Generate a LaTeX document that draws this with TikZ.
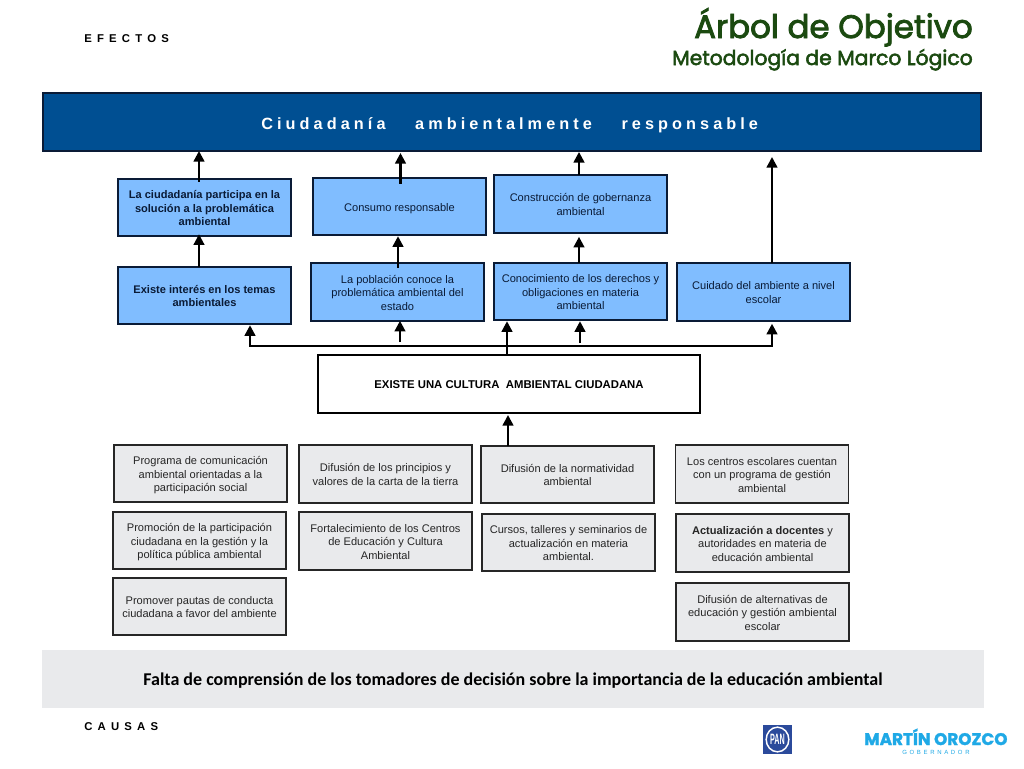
\documentclass[tikz,border=0pt]{standalone}
\usepackage{fontspec}
\setmainfont{Liberation Sans}
\newfontfamily\ttlfont[FakeBold=2.6]{Poppins}
\newfontfamily\mofont[BoldFeatures={FakeBold=1.6}]{Poppins}
\newfontfamily\calfont{Carlito}
\usetikzlibrary{arrows.meta,shapes.geometric}
\newcommand\wordgap[1]{\spaceskip #1\relax}
\newcommand\bt[1]{\raisebox{-1.5pt}[\height][\depth]{\begin{tabular}{@{}c@{}}#1\end{tabular}}}
\definecolor{boxblue}{HTML}{80BDFF}
\definecolor{barblue}{HTML}{004F92}
\definecolor{navy}{HTML}{0A1B36}
\definecolor{boxgray}{HTML}{E9EAEC}
\definecolor{ttlgreen}{HTML}{1B4A10}
\definecolor{pamblue}{HTML}{2B4A9B}
\definecolor{mocyan}{HTML}{1FA9E6}
\tikzset{
  boxtext/.style={font=\fontsize{8.3}{10.1}\selectfont,inner sep=0pt,outer sep=0pt,
     minimum width=129.75pt,minimum height=43.2pt},
  bluebox/.style={boxtext,draw=navy,fill=boxblue,text=navy,line width=1.3pt},
  graybox/.style={boxtext,draw=black!85,fill=boxgray,text=black!85,line width=1.4pt},
  arr/.style={draw=black,line width=1.8pt,-{Triangle[width=8pt,length=8pt]}},
  sidelabel/.style={font=\fontsize{8.5}{10}\selectfont\bfseries\wordgap{3.9pt},anchor=base west,inner sep=0pt,text=black},
}
\begin{document}
\begin{tikzpicture}[x=0.75pt,y=-0.75pt]
\useasboundingbox (0,0) rectangle (1024,768);
\fill[white] (0,0) rectangle (1024,768);

% titles
\node[font=\fontsize{24.35}{28}\selectfont\ttlfont,text=ttlgreen,anchor=base east,inner sep=0pt] (title) at (973,38) {Árbol de Objetivo};
\node[font=\fontsize{15.25}{18}\selectfont\ttlfont,text=ttlgreen,anchor=base east,inner sep=0pt] (subtitle) at (973,65) {Metodología de Marco Lógico};
\node[sidelabel] (efectos) at (84,42) {E F E C T O S};
\node[sidelabel] (causas) at (84,730) {C A U S A S};

% top bar
\node[draw=navy,fill=barblue,line width=1.1pt,minimum width=703.5pt,minimum height=43.5pt,inner sep=0pt,outer sep=0pt,
      text=white,font=\fontsize{12.2}{14}\selectfont\bfseries\wordgap{3.05pt}] (bar) at (512,122)
  {\raisebox{-2.2pt}[\height][\depth]{C i u d a d a n í a\hspace{22.2pt}a m b i e n t a l m e n t e\hspace{22.2pt}r e s p o n s a b l e\hspace*{3.5pt}}};

% blue boxes
\node[bluebox] (A1) at (204.5,207.5) {\bt{\bfseries La ciudadanía participa en la\\\bfseries solución a la problemática\\\bfseries ambiental}};
\node[bluebox] (A2) at (399.5,206.5) {\bt{Consumo responsable}};
\node[bluebox] (A3) at (580.5,204) {\bt{Construcción de gobernanza\\ambiental}};
\node[bluebox] (B1) at (204.5,295.5) {\bt{\bfseries Existe interés en los temas\\\bfseries ambientales}};
\node[bluebox] (B2) at (397.5,292) {\bt{La población conoce la\\problemática ambiental del\\estado}};
\node[bluebox] (B3) at (580.5,291.5) {\bt{Conocimiento de los derechos y\\obligaciones en materia\\ambiental}};
\node[bluebox] (B4) at (763.5,292) {\bt{Cuidado del ambiente a nivel\\escolar}};

% culture box
\node[draw=black,fill=white,line width=2.2pt,minimum width=286.5pt,minimum height=43.5pt,inner sep=0pt,outer sep=0pt,
      font=\fontsize{8.5}{10}\selectfont\bfseries] (cult) at (509,384) {\raisebox{-0.7pt}[\height][\depth]{EXISTE UNA CULTURA\hspace{2.5pt} AMBIENTAL CIUDADANA}};

% gray boxes
\node[graybox] (C1) at (200.5,473.5) {\bt{Programa de comunicación\\ambiental orientadas a la\\participación social}};
\node[graybox] (C2) at (385.5,474) {\bt{Difusión de los principios y\\valores de la carta de la tierra}};
\node[graybox] (C3) at (567.5,474.5) {\bt{Difusión de la normatividad\\ambiental}};
\node[graybox] (C4) at (762,474) {\bt{Los centros escolares cuentan\\con un programa de gestión\\ambiental}};
\node[graybox] (D1) at (199.5,540.5) {\bt{Promoción de la participación\\ciudadana en la gestión y la\\política pública ambiental}};
\node[graybox] (D2) at (385.5,541) {\bt{Fortalecimiento de los Centros\\de Educación y Cultura\\Ambiental}};
\node[graybox] (D3) at (568.5,542.5) {\bt{Cursos, talleres y seminarios de\\actualización en materia\\ambiental.}};
\node[graybox] (D4) at (762.5,543) {\bt{{\bfseries Actualización a docentes} y\\autoridades en materia de\\educación ambiental}};
\node[graybox] (E1) at (199.5,606.5) {\bt{Promover pautas de conducta\\ciudadana a favor del ambiente}};
\node[graybox] (E4) at (762.5,612) {\bt{Difusión de alternativas de\\educación y gestión ambiental\\escolar}};

% bottom band
\node[fill=boxgray,minimum width=706.5pt,minimum height=43.5pt,inner sep=0pt,outer sep=0pt,
      font=\fontsize{13.5}{16}\selectfont\calfont\bfseries,text=black] (band) at (513,679)
  {\raisebox{-1.5pt}[\height][\depth]{Falta de comprensión de los tomadores de decisión sobre la importancia de la educación ambiental}};

% connector columns
\coordinate (xa) at (199,0);
\coordinate (xb) at (400.5,0);
\coordinate (xc) at (579,0);
\coordinate (xd) at (772,0);
\coordinate (xe) at (398,0);
\coordinate (xf) at (250,0);
\coordinate (xg) at (507,0);
\coordinate (xh) at (508,0);
\coordinate (bus) at (507,346);
\coordinate (stubB) at (400,342);
\coordinate (stubC) at (580,343);

\draw[arr,shorten <=-2.2pt] (xa |- A1.north) -- (xa |- bar.south);
\draw[arr,shorten <=-4.5pt,shorten >=1.5pt] (xb |- A2.north) -- (xb |- bar.south);
\draw[arr,shorten >=0.7pt] (xc |- A3.north) -- (xc |- bar.south);
\draw[arr,shorten >=4.5pt] (xd |- B4.north) -- (xd |- bar.south);
\draw[arr,shorten >=-1.5pt] (xa |- B1.north) -- (xa |- A1.south);
\draw[arr,shorten <=-3.5pt,shorten >=0.7pt] (xe |- B2.north) -- (xe |- A2.south);
\draw[arr,shorten >=3pt] (xc |- B3.north) -- (xc |- A3.south);
\draw[arr,shorten >=0.7pt] (xg |- cult.north) -- (xg |- B3.south);
\draw[arr,shorten >=0.7pt] (bus) -| (xf |- B1.south);
\draw[arr,shorten >=2.2pt] (bus) -| (xd |- B4.south);
\draw[arr] (stubB) -- (stubB |- B2.south);
\draw[arr,shorten >=0.7pt] (stubC) -- (stubC |- B3.south);
\draw[arr,shorten >=1.5pt] (xh |- C3.north) -- (xh |- cult.south);

% logos
\node[fill=pamblue,minimum width=21.8pt,minimum height=21.8pt,inner sep=0pt] (pam) at (777.5,739.5) {};
\node[draw=white,line width=1.1pt,ellipse,minimum width=17pt,minimum height=18.5pt,inner sep=0pt,
      font=\fontsize{7.5}{8}\selectfont\bfseries,text=white] (pamtext) at (777.5,739.5) {\scalebox{0.72}[1.5]{PAN}};
\node[font=\fontsize{12.6}{14}\selectfont\mofont\bfseries,text=mocyan,anchor=base west,inner sep=0pt] (mo) at (864,745) {MARTÍN OROZCO};
\node[font=\fontsize{4.5}{5}\selectfont\wordgap{2pt},text=mocyan,anchor=base west,inner sep=0pt] (gob) at (902,754) {G O B E R N A D O R};
\end{tikzpicture}
\end{document}
